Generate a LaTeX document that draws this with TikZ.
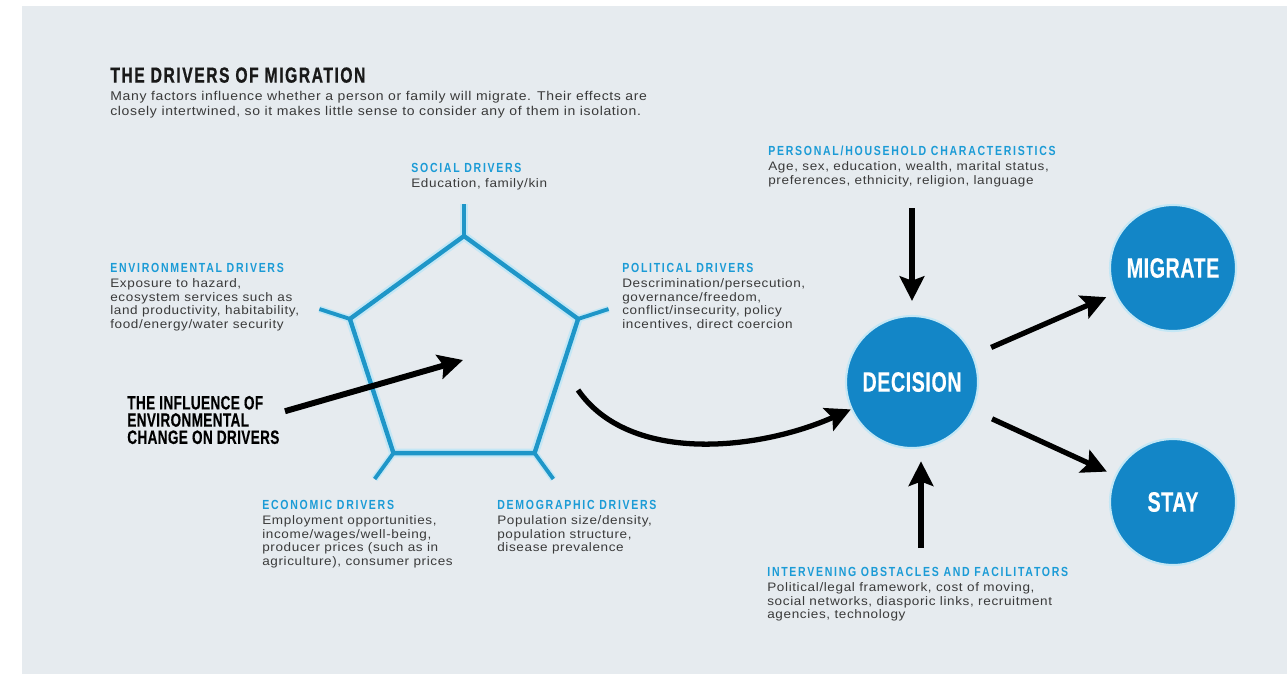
\documentclass[tikz,border=0pt]{standalone}
\usepackage{fontspec}
\setmainfont{Liberation Sans}[FakeStretch=1.1,LetterSpace=5]
\newfontfamily\titlefont{Liberation Sans Bold}[FakeStretch=0.72,LetterSpace=7,FakeBold=0.8]
\newfontfamily\headfont{Liberation Sans Bold}[FakeStretch=0.8,LetterSpace=13]
\newfontfamily\bigfont{Liberation Sans Bold}[FakeStretch=0.7,LetterSpace=2,FakeBold=0.3]
\usetikzlibrary{positioning,arrows.meta}

\definecolor{panelgray}{HTML}{E6EBEF}
\definecolor{driverblue}{HTML}{1B9BD6}
\definecolor{penblue}{HTML}{1E96C8}
\definecolor{halo}{HTML}{C4E7F5}
\definecolor{discblue}{HTML}{1386C7}
\definecolor{bodygray}{HTML}{3A3A3A}

\tikzset{
  drivhead/.style={anchor=west, inner sep=0pt, text depth=0pt, text=driverblue,
    font=\headfont\fontsize{7.5}{8}\selectfont},
  drivtext/.style={anchor=north west, inner sep=0pt, align=left, text=bodygray,
    font=\fontsize{7}{7.8}\selectfont},
  bigarrow/.style={line width=3pt, -{Stealth[length=14pt,width=14pt,inset=2.5pt]}},
  disc/.style={circle, fill=discblue, draw=halo, line width=1.2pt, text=white,
    font=\bigfont\fontsize{16}{18}\selectfont},
}

\begin{document}
\begin{tikzpicture}[x=0.02cm,y=-0.02cm]
    \useasboundingbox (0,0) rectangle (1287,674);
    \fill[panelgray] (22,6) rectangle (1287,674);

    % title
    \node[anchor=west, inner sep=0pt, text depth=0pt, text=black!90,
      font=\titlefont\fontsize{12.4}{13}\selectfont] (title) at (110,75) {THE DRIVERS OF MIGRATION};
    \node[drivtext, below=4.5pt of title.south west, anchor=north west,
      font=\fontsize{7.25}{8.4}\selectfont] (intro)
      {Many factors influence whether a person or family will migrate. Their effects are\\
       closely intertwined, so it makes little sense to consider any of them in isolation.};

    % drivers pentagon
    \def\penx{464}
    \def\peny{356}
    \def\penr{120}
    \def\spoke{152}
    \begin{scope}[shift={(\penx,\peny)}]
        \draw[halo, line width=5pt, line join=miter] (-90:\penr) -- (-18:\penr) -- (54:\penr) -- (126:\penr) -- (198:\penr) -- cycle;
        \foreach \a in {-90,-18,54,126,198}
            \draw[halo, line width=4pt] (\a:\penr) -- (\a:\spoke);
        \draw[penblue, line width=2.5pt, line join=miter] (-90:\penr) -- (-18:\penr) -- (54:\penr) -- (126:\penr) -- (198:\penr) -- cycle;
        \foreach \a in {-90,-18,54,126,198}
            \draw[penblue, line width=2.2pt] (\a:\penr) -- (\a:\spoke);
    \end{scope}

    % the five drivers
    \node[drivhead] (socialhead) at (411,168) {SOCIAL DRIVERS};
    \node[drivtext, below=3pt of socialhead.south west, anchor=north west] (socialtext)
      {Education, family/kin};
    \node[drivhead] (envhead) at (110,268) {ENVIRONMENTAL DRIVERS};
    \node[drivtext, below=3pt of envhead.south west, anchor=north west] (envtext)
      {Exposure to hazard,\\ecosystem services such as\\land productivity, habitability,\\food/energy/water security};
    \node[drivhead] (polhead) at (622,268) {POLITICAL DRIVERS};
    \node[drivtext, below=3pt of polhead.south west, anchor=north west] (poltext)
      {Descrimination/persecution,\\governance/freedom,\\conflict/insecurity, policy\\incentives, direct coercion};
    \node[drivhead] (ecohead) at (262,505) {ECONOMIC DRIVERS};
    \node[drivtext, below=3pt of ecohead.south west, anchor=north west] (ecotext)
      {Employment opportunities,\\income/wages/well-being,\\producer prices (such as in\\agriculture), consumer prices};
    \node[drivhead] (demohead) at (497,505) {DEMOGRAPHIC DRIVERS};
    \node[drivtext, below=3pt of demohead.south west, anchor=north west] (demotext)
      {Population size/density,\\population structure,\\disease prevalence};

    % environmental change
    \node[anchor=west, inner sep=0pt, align=left, text=black,
      font=\bigfont\fontsize{11}{9.8}\selectfont] (influence) at (127,420)
      {THE INFLUENCE OF\\ENVIRONMENTAL\\CHANGE ON DRIVERS};
    \coordinate (pencore) at (463,360);
    \draw[bigarrow, line width=3.4pt] ([xshift=3pt,yshift=5pt]influence.east) -- (pencore);

    % decision and outcomes
    \node[disc, minimum size=2.64cm] (decision) at (912,382) {DECISION};
    \node[disc, minimum size=2.52cm] (migrate) at (1173,268) {MIGRATE};
    \node[disc, minimum size=2.52cm] (stay) at (1173,502) {STAY};

    \node[drivhead] (pershead) at (768,151) {PERSONAL/HOUSEHOLD CHARACTERISTICS};
    \node[drivtext, below=3pt of pershead.south west, anchor=north west] (perstext)
      {Age, sex, education, wealth, marital status,\\preferences, ethnicity, religion, language};
    \node[drivhead] (obshead) at (767,572) {INTERVENING OBSTACLES AND FACILITATORS};
    \node[drivtext, below=3pt of obshead.south west, anchor=north west] (obstext)
      {Political/legal framework, cost of moving,\\social networks, diasporic links, recruitment\\agencies, technology};

    % arrows into and out of the decision
    \coordinate (perfoot) at (912,208);
    \coordinate (obsfoot) at (921,548);
    \coordinate (penexit) at (578,390);
    \draw[bigarrow, shorten >=8pt] (perfoot) -- (perfoot |- decision.north);
    \draw[bigarrow, shorten >=7pt] (obsfoot) -- (obsfoot |- decision.south);
    \draw[bigarrow] (penexit) .. controls (630,465) and (760,450) .. (decision);
    \draw[bigarrow, shorten <=11pt, shorten >=5pt] (decision) -- (migrate);
    \draw[bigarrow, shorten <=12pt, shorten >=5pt] (decision) -- (stay);
\end{tikzpicture}
\end{document}
